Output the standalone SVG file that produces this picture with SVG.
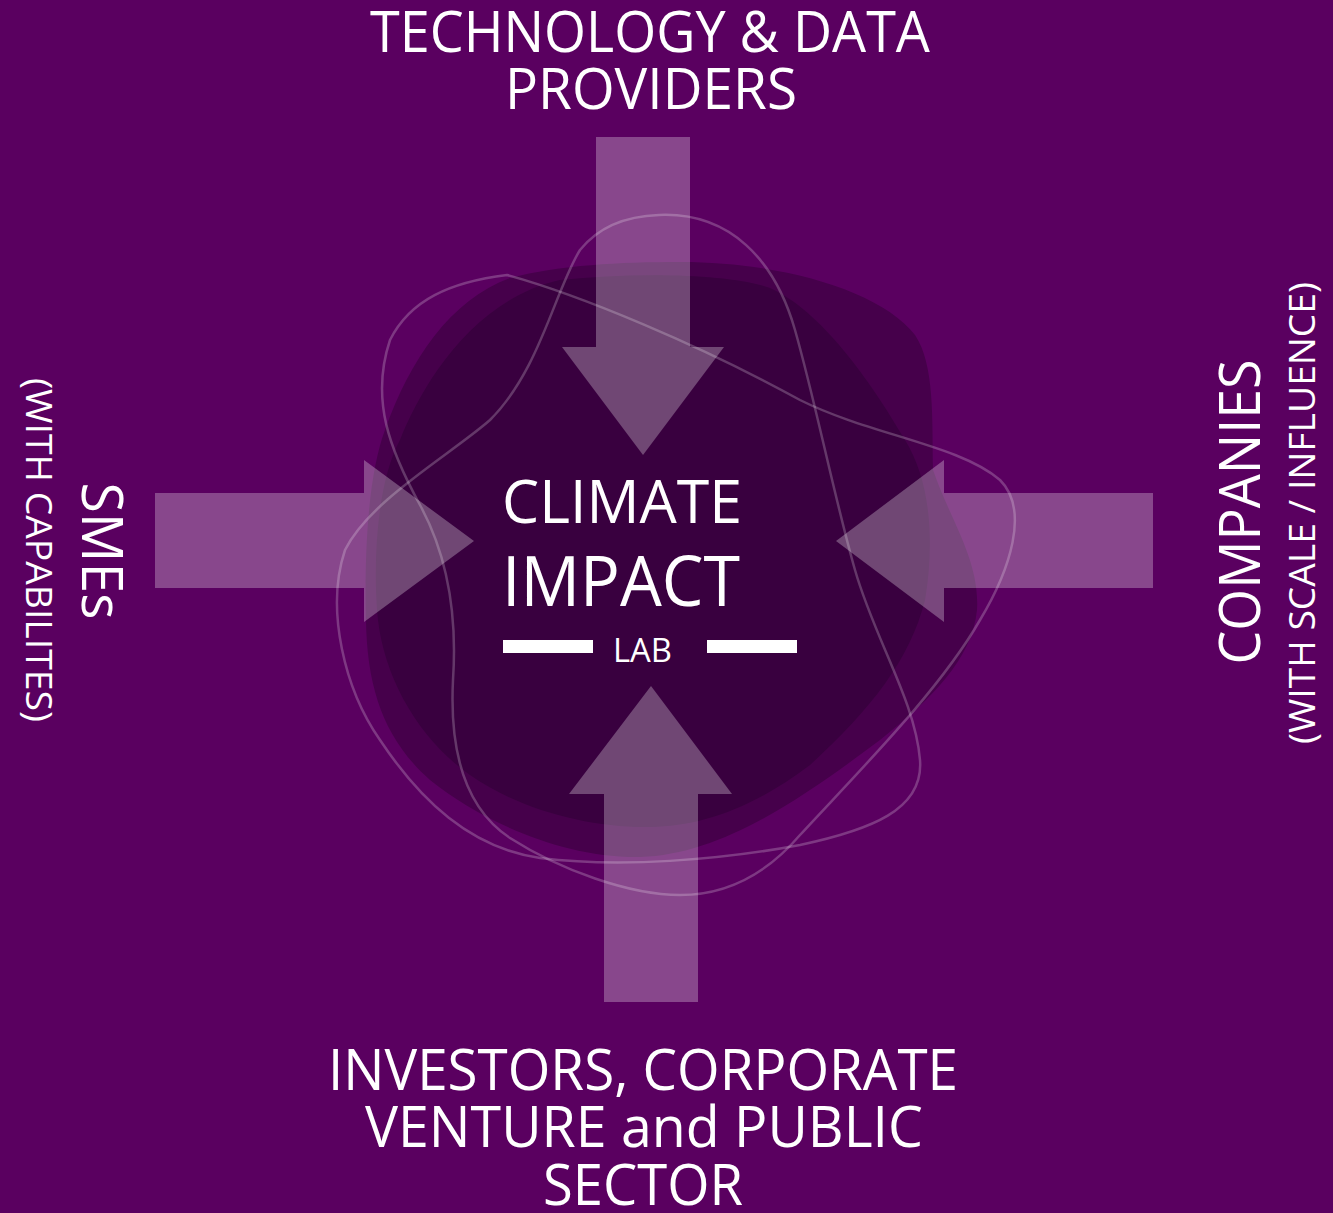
<svg xmlns="http://www.w3.org/2000/svg" width="1333" height="1213" viewBox="0 0 1333 1213">
<style>
.t{font-family:"Open Sans","Liberation Sans",sans-serif;fill:#ffffff;}
.big{font-size:57px;}
.sub{font-size:36px;}
.arrow{fill:#ffffff;fill-opacity:0.28;}
.loop{fill:none;stroke:#ffffff;stroke-opacity:0.22;stroke-width:2.5;}
</style>
<rect x="0" y="0" width="1333" height="1213" fill="#5a0060"/>
<g id="backdrop">
<path fill="#46004b" d="M 680,262 C 780,262 880,290 915,335 C 935,365 932,420 933,470 C 950,520 980,560 977,610 C 972,660 930,700 880,740 C 800,800 720,855 640,857 C 560,858 480,820 430,780 C 385,740 367,690 366,620 C 364,540 370,470 385,430 C 410,360 450,300 510,278 C 560,265 620,262 680,262 Z"/>
<path fill="#39003f" d="M 560,280 C 640,272 730,274 770,288 C 820,310 870,380 905,440 C 930,480 935,540 925,600 C 910,660 870,710 810,765 C 750,810 700,826 650,827 C 590,828 520,810 470,775 C 420,740 385,680 378,620 C 372,560 378,480 400,440 C 420,390 470,300 560,280 Z"/>
<path class="loop" d="M 659,215 C 730,212 775,260 795,330 C 815,400 835,500 855,570 C 875,640 915,700 920,760 C 924,810 870,830 800,845 C 720,860 620,868 540,858 C 470,848 420,800 380,740 C 345,690 325,610 345,550 C 370,500 450,455 490,420 C 540,370 555,290 580,250 C 600,225 630,216 659,215 Z"/>
<path class="loop" d="M 507,275 C 580,295 700,345 800,400 C 870,435 960,445 1000,480 C 1030,510 1010,570 980,620 C 940,690 860,770 800,835 C 770,870 730,895 680,895 C 630,895 560,870 510,838 C 460,805 450,740 453,680 C 457,620 450,560 420,505 C 390,450 370,400 390,340 C 410,300 450,282 507,275 Z"/>
</g>
<g id="connectors">
<polygon class="arrow" points="596,137 690,137 690,347 724,347 643,455 562,347 596,347"/>
<polygon class="arrow" points="155,493 364,493 364,460 474,541 364,622 364,588 155,588"/>
<polygon class="arrow" points="1153,493 944,493 944,460 836,541 944,622 944,588 1153,588"/>
<polygon class="arrow" points="604,1002 698,1002 698,794 732,794 651,686 569,794 604,794"/>
</g>
<g id="node-center">
<text class="t" x="502" y="523" font-size="61" textLength="240" lengthAdjust="spacingAndGlyphs">CLIMATE</text>
<text class="t" x="502" y="606" font-size="70" textLength="238" lengthAdjust="spacingAndGlyphs">IMPACT</text>
<rect x="503" y="640" width="90" height="13" fill="#ffffff"/>
<rect x="707" y="640" width="90" height="13" fill="#ffffff"/>
<text class="t" x="613" y="662" font-size="32" textLength="59" lengthAdjust="spacingAndGlyphs">LAB</text>
</g>
<g id="node-tech">
<text class="t big" x="650" y="52" text-anchor="middle" textLength="560" lengthAdjust="spacingAndGlyphs">TECHNOLOGY &amp; DATA</text>
<text class="t big" x="651" y="109" text-anchor="middle" textLength="292" lengthAdjust="spacingAndGlyphs">PROVIDERS</text>
</g>
<g id="node-investors">
<text class="t big" x="643" y="1090" text-anchor="middle" textLength="630" lengthAdjust="spacingAndGlyphs">INVESTORS, CORPORATE</text>
<text class="t big" x="644" y="1147" text-anchor="middle" textLength="558" lengthAdjust="spacingAndGlyphs">VENTURE and PUBLIC</text>
<text class="t big" x="643" y="1205" text-anchor="middle" textLength="200" lengthAdjust="spacingAndGlyphs">SECTOR</text>
</g>
<g id="node-smes">
<text class="t big" transform="translate(82,551) rotate(90)" text-anchor="middle" textLength="137" lengthAdjust="spacingAndGlyphs">SMEs</text>
<text class="t sub" transform="translate(26,550) rotate(90)" text-anchor="middle" textLength="344" lengthAdjust="spacingAndGlyphs">(WITH CAPABILITES)</text>
</g>
<g id="node-companies">
<text class="t big" transform="translate(1260,512) rotate(-90)" text-anchor="middle" textLength="305" lengthAdjust="spacingAndGlyphs">COMPANIES</text>
<text class="t sub" transform="translate(1315,513) rotate(-90)" text-anchor="middle" textLength="462" lengthAdjust="spacingAndGlyphs">(WITH SCALE / INFLUENCE)</text>
</g>
</svg>
